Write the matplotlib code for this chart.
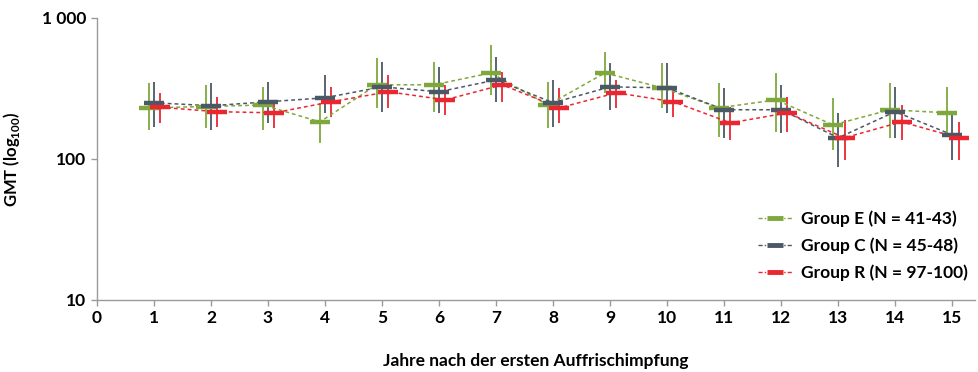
import numpy as np
import matplotlib.pyplot as plt
from matplotlib.ticker import FixedLocator, NullLocator

plt.rcParams['font.family'] = ['Lato', 'DejaVu Sans']

years = np.arange(1, 16)

# Group E
e_gmt = [230, 235, 241, 183, 335, 335, 407, 241, 407, 319, 230, 262, 174, 223, 212]
e_lo = [161, 166, 161, 130, 230, 216, 284, 166, 294, 230, 143, 155, 116, 141, 143]
e_hi = [346, 335, 324, 250, 520, 488, 644, 352, 574, 480, 346, 407, 271, 346, 324]

# Group C
c_gmt = [250, 238, 254, 271, 324, 299, 363, 250, 324, 319, 223, 223, 141, 216, 148]
c_lo = [169, 161, 180, 212, 216, 212, 254, 169, 223, 212, 141, 153, 88, 141, 98]
c_hi = [352, 346, 352, 394, 488, 449, 529, 363, 480, 480, 319, 335, 212, 324, 212]

# Group R
r_gmt = [232, 216, 212, 254, 299, 262, 335, 230, 294, 254, 180, 212, 141, 183, 141]
r_lo = [180, 169, 166, 199, 230, 205, 254, 180, 230, 199, 136, 155, 98, 136, 98]
r_hi = [294, 275, 262, 324, 394, 335, 414, 319, 363, 319, 234, 275, 189, 241, 183]

labels = ['Group E (N = 41-43)', 'Group C (N = 45-48)', 'Group R (N = 97-100)']
colors = ['#7fa83c', '#4b5866', '#ea2630']
offsets = [-0.09, 0.0, 0.11]

fig = plt.figure(figsize=(9.79, 3.72), dpi=100)
ax = fig.add_axes([0.099, 0.194, 0.897, 0.758])

groups = [(e_gmt, e_lo, e_hi), (c_gmt, c_lo, c_hi), (r_gmt, r_lo, r_hi)]
for (gmt, lo, hi), lab, col, off in zip(groups, labels, colors, offsets):
    gmt = np.array(gmt)
    x = years + off
    ax.vlines(x, lo, hi, color=col, lw=1.3, zorder=2)
    ax.plot(x, gmt, linestyle=(0, (2.5, 2)), color=col, lw=1.1, zorder=3)
    ax.plot(x, gmt, linestyle='none', marker='_', ms=15, mew=3.2, color=col, zorder=4)
    ax.plot([], [], linestyle=(0, (3, 1.5, 1, 1.5)), color=col, lw=1.0,
            marker='_', ms=12, mew=3.5, label=lab)

ax.set_yscale('log')
ax.set_ylim(10, 1000)
ax.set_xlim(0, 15.4)
ax.yaxis.set_major_locator(FixedLocator([10, 100, 1000]))
ax.yaxis.set_minor_locator(NullLocator())
ax.set_yticklabels(['10', '100', '1 000'])
ax.set_xticks(range(0, 16))

for s in ['top', 'right']:
    ax.spines[s].set_visible(False)
for s in ['left', 'bottom']:
    ax.spines[s].set_color('#9a9a9a')
    ax.spines[s].set_linewidth(1.0)
ax.tick_params(axis='both', colors='#9a9a9a', length=4, width=1,
               labelcolor='black', labelsize=12.5)
for t in ax.get_xticklabels() + ax.get_yticklabels():
    t.set_fontweight('bold')

ax.set_ylabel('GMT (log$_{\\mathregular{100}}$)', fontsize=12, fontweight='bold')
ax.yaxis.set_label_coords(-0.085, 0.5)
ax.set_xlabel('Jahre nach der ersten Auffrischimpfung', fontsize=12.5,
              fontweight='bold', labelpad=19)

leg = ax.legend(loc='lower right', bbox_to_anchor=(1.01, 0.01), frameon=False,
                fontsize=12.5, handlelength=2.0, labelspacing=0.6, handletextpad=0.5)
for t in leg.get_texts():
    t.set_fontweight('bold')

fig.savefig('out.png', dpi=100)
